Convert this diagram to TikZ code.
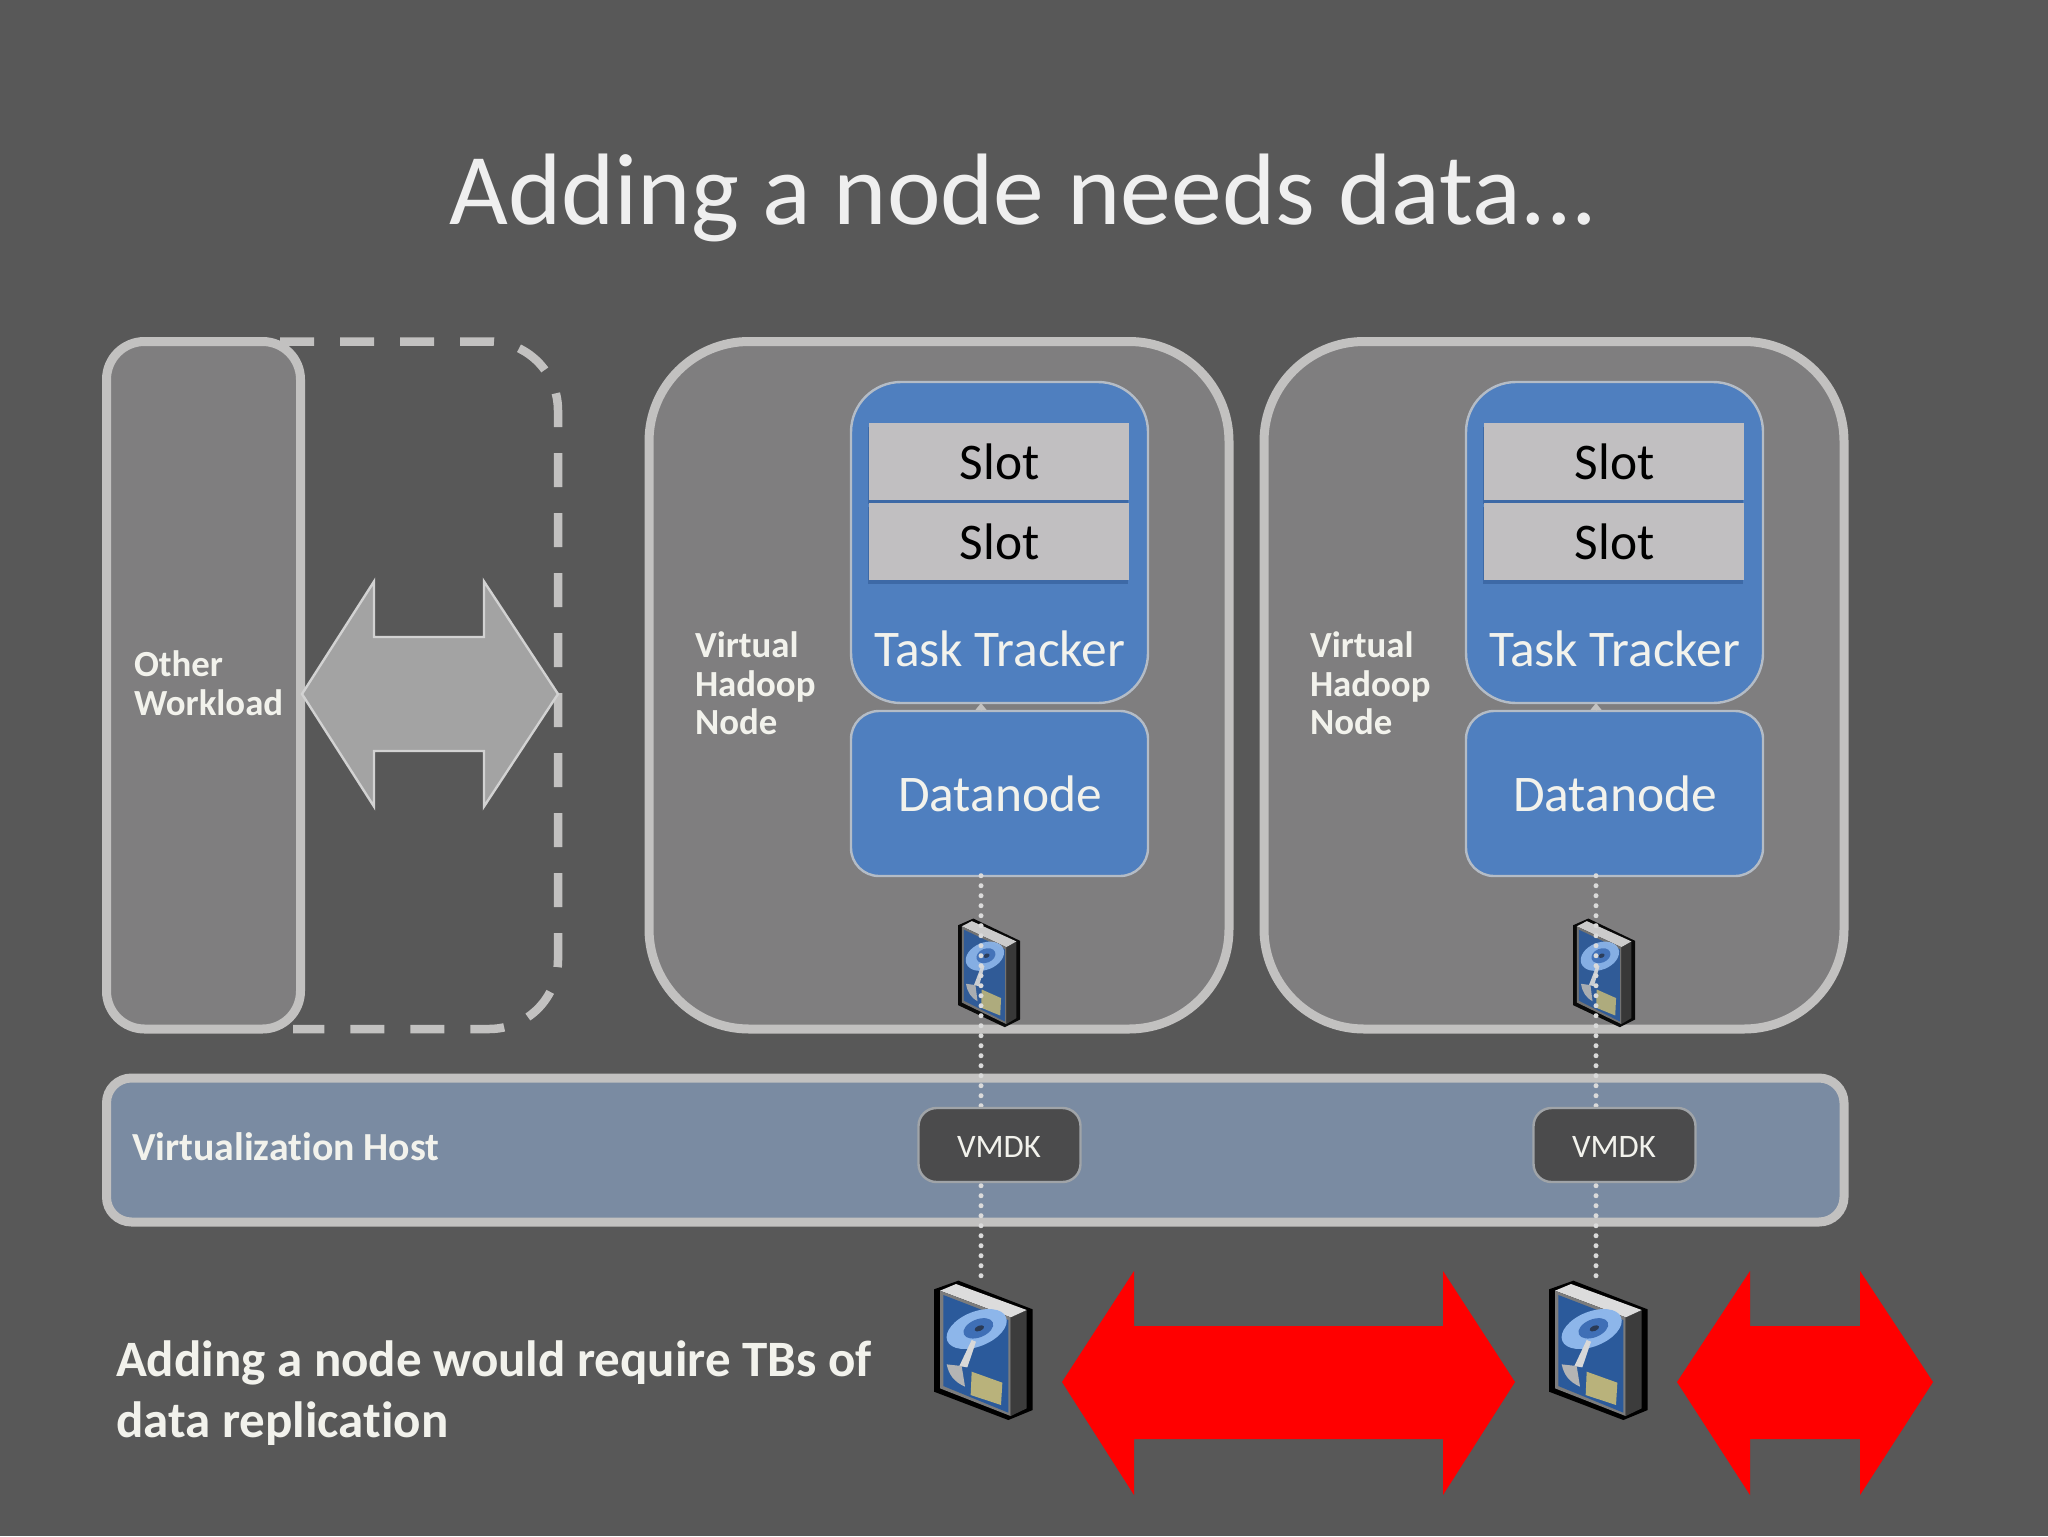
\documentclass[tikz,border=0pt]{standalone}
\usepackage{fontspec}
\setmainfont{Carlito}[Ligatures=NoCommon]
\usetikzlibrary{arrows.meta,shadows}
\definecolor{bgc}{HTML}{585858}
\definecolor{edgec}{HTML}{C2C1C0}
\definecolor{panelc}{HTML}{7F7E7F}
\definecolor{bluec}{HTML}{4F7FBF}
\definecolor{blueedge}{HTML}{B4BCC6}
\definecolor{slotc}{HTML}{C1BFC1}
\definecolor{slotsh}{HTML}{3D69A6}
\definecolor{hostc}{HTML}{7A8BA2}
\definecolor{vmdkc}{HTML}{4B4B4C}
\definecolor{vmdkedge}{HTML}{A0A4A8}
\definecolor{dotc}{HTML}{DADADA}
\definecolor{txtc}{HTML}{F2F2EC}
\definecolor{titlec}{HTML}{EFEFEF}
\definecolor{greyarrowline}{HTML}{D2D2D2}
\definecolor{greyarrow}{HTML}{A3A3A3}
\tikzset{
  every node/.style={outer sep=0pt,inner sep=0pt},
  panel/.style={draw=edgec,fill=panelc,line width=4.5pt},
  bluebox/.style={draw=blueedge,fill=bluec,line width=1.2pt},
  slotbox/.style={fill=slotc,minimum width=130pt,minimum height=38.5pt,
     drop shadow={shadow xshift=-0.5pt,shadow yshift=-2pt,fill=slotsh,opacity=1}},
  vmdkbox/.style={draw=vmdkedge,fill=vmdkc,line width=1.2pt,rounded corners=9pt,minimum width=81pt,minimum height=37pt},
  dashline/.style={draw=edgec,line width=4.25pt,dash pattern=on 17pt off 13pt},
  dotline/.style={draw=dotc,line width=2.5pt,line cap=round,dash pattern=on 0pt off 5pt},
  redarrow/.style={draw=none,fill=red},
  big/.style={font=\fontsize{25.7}{30}\selectfont,text=txtc,anchor=base},
  boldt/.style={font=\fontsize{18.4}{19}\selectfont\bfseries,text=txtc,anchor=base west},
  HTML/.code={\definecolor{tmpc}{HTML}{#1}\pgfkeysalso{color=tmpc}},
}
% hard disk icon, coordinates in thirds of a pixel from its top-left corner
\newcommand{\hdd}[5]{%
\begin{scope}[shift={(#1,#2)},x=0.16667pt*#3,y=-0.16667pt*#4,opacity=#5]
 \fill[black] (0,28)--(73,2)--(296,88)--(296,390)--(223,420)--(0,335)--cycle;
 \fill[HTML=3C3C3C] (230,112)--(278,90)--(278,385)--(230,408)--cycle;
 \fill[HTML=DCDCDC] (18,32)--(66,12)--(278,90)--(230,112)--cycle;
 \fill[HTML=7C7C7C] (18,32)--(230,112)--(230,408)--(18,325)--cycle;
 \fill[HTML=2B5A9B] (28,45)--(223,120)--(223,398)--(28,318)--cycle;
 \fill[HTML=8DB6EA,rotate around={22:(128,147)}] (128,147) ellipse (95 and 52);
 \fill[HTML=3F6FB6,rotate around={22:(133,145)}] (133,145) ellipse (47 and 27);
 \fill[HTML=2A3A55,rotate around={22:(136,145)}] (136,145) ellipse (15 and 8);
 \fill[HTML=D8D8D8] (113,180)--(126,185)--(100,262)--(76,258)--cycle;
 \fill[HTML=B4B4B4] (38,253)--(83,258)--(93,320) .. controls (60,305) and (45,285) .. cycle;
 \fill[HTML=B9B27B] (113,275)--(205,308)--(201,375)--(110,345)--cycle;
\end{scope}}
\begin{document}
\begin{tikzpicture}[x=0.5pt,y=-0.5pt]
\useasboundingbox (0,0) rectangle (2048,1536);
\fill[bgc] (0,0) rectangle (2048,1536);
% title
\node[font=\fontsize{50.8}{54}\selectfont,text=titlec,anchor=base] (title) at (1023.5,224) {Adding a node needs data...};
% other workload
\node[panel,rounded corners=19pt,minimum width=97pt,minimum height=343.75pt] (other) at (203.5,685.25) {};
\node[boldt] (otherA) at (134,676) {Other};
\node[boldt] (otherB) at (134,715) {Workload};
\coordinate (dashstart) at (280,341.5);
\coordinate (dashend) at (293,1029);
\draw[dashline,rounded corners=34.5pt] (dashstart) -- (558,341.5) -- (558,1029) -- (dashend);
\draw[draw=greyarrowline,fill=greyarrow,line width=1.2pt,line join=miter] (302,694)--(374,581.5)--(374,637)--(484,637)--(484,581.5)--(558,694)--(484,806.5)--(484,751)--(374,751)--(374,806.5)--cycle;
% VMs
\foreach \dx/\n in {0/1,615/2}{
\node[panel,rounded corners=50pt,minimum width=290pt,minimum height=343.75pt] (vm\n) at (939+\dx,685.25) {};
\node[bluebox,rounded corners=25pt,minimum width=148.5pt,minimum height=160.5pt] (tt\n) at (999.5+\dx,542.5) {};
\node[slotbox] (slotA\n) at (999+\dx,461.5) {};
\node[slotbox] (slotB\n) at (999+\dx,541.5) {};
\node[big,text=black] at (999.5+\dx,479) {Slot};
\node[big,text=black] at (999.5+\dx,559) {Slot};
\node[big] at (999.5+\dx,666) {Task Tracker};
\node[bluebox,rounded corners=14pt,minimum width=148.5pt,minimum height=82.5pt] (dn\n) at (999.5+\dx,793.5) {};
\node[big] at (1000+\dx,811) {Datanode};
\node[boldt] at (695+\dx,657) {Virtual};
\node[boldt] at (695+\dx,696) {Hadoop};
\node[boldt] at (695+\dx,734) {Node};
\coordinate (axis\n) at (981+\dx,1285);
\draw[draw=edgec,-{Triangle[length=3.5pt,width=5.5pt]},line width=.1pt] (dn\n.north -| axis\n) -- (tt\n.south -| axis\n);
\hdd{958+\dx}{918}{0.63}{0.78}{0.92}
}
% host bar
\node[panel,rounded corners=12.5pt,fill=hostc,minimum width=868.75pt,minimum height=72pt] (host) at (975.25,1150) {};
\node[boldt,font=\fontsize{19.9}{21}\selectfont\bfseries] (hostt) at (132,1160) {Virtualization Host};
\foreach \dx/\n in {0/1,615/2}{
\draw[dotline] (dn\n.south -| axis\n) ++(0,-0.3) -- (axis\n);
\node[vmdkbox] (vmdk\n) at (999.5+\dx,1145) {};
\node[font=\fontsize{16.4}{18}\selectfont,text=txtc,anchor=base] at (999+\dx,1157) {VMDK};
\hdd{934+\dx}{1280}{1}{1}{1}
}
% red arrows
\fill[redarrow] (1062,1382)--(1134,1271)--(1134,1326)--(1443,1326)--(1443,1271)--(1515,1382)--(1443,1495)--(1443,1439)--(1134,1439)--(1134,1495)--cycle;
\fill[redarrow] (1677,1382)--(1750,1271)--(1750,1326)--(1860,1326)--(1860,1271)--(1933,1382)--(1860,1495)--(1860,1439)--(1750,1439)--(1750,1495)--cycle;
\node[font=\fontsize{25.5}{27}\selectfont\bfseries,text=txtc,anchor=base west] (addA) at (116,1376) {Adding a node would require TBs of};
\node[font=\fontsize{25.5}{27}\selectfont\bfseries,text=txtc,anchor=base west] (addB) at (116,1437) {data replication};
\end{tikzpicture}
\end{document}
